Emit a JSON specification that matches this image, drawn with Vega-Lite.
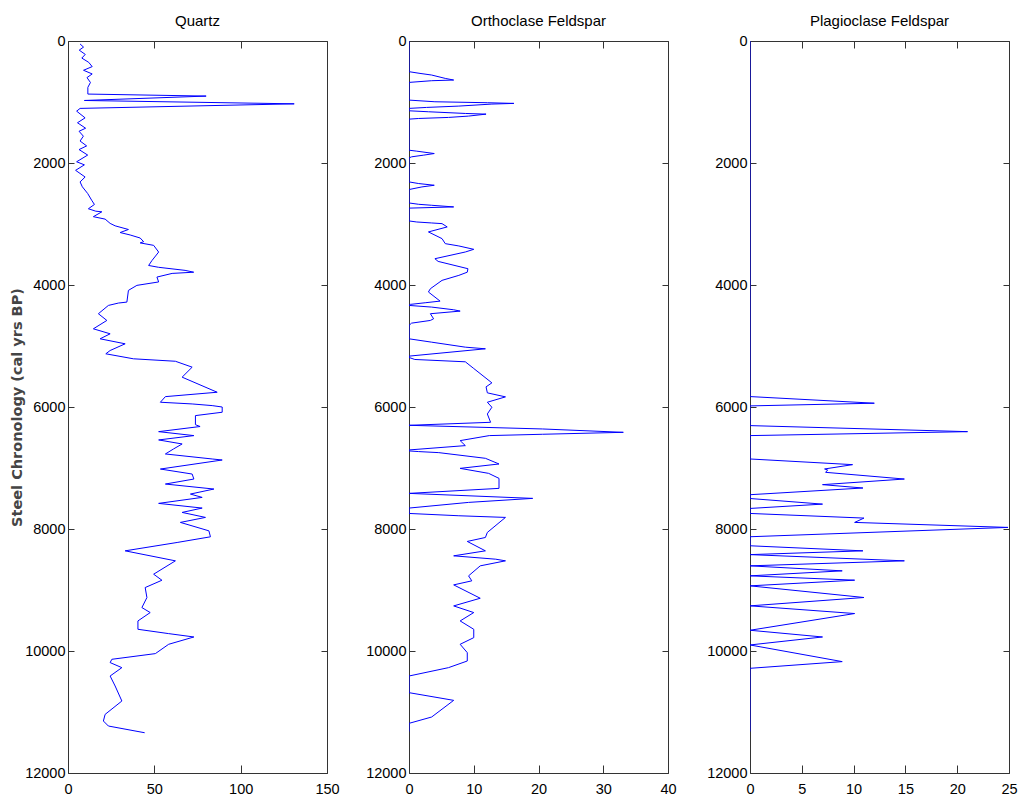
{
  "$schema": "https://vega.github.io/schema/vega-lite/v6.json",
  "padding": {"left": 9, "top": 14, "right": 0, "bottom": 0},
  "background": "white",
  "spacing": 82,
  "bounds": "flush",
  "datasets": {
    "quartz": [
      {"a":49,"v":7.0},{"a":100,"v":9.0},{"a":150,"v":6.5},{"a":220,"v":10},{"a":280,"v":8},{"a":350,"v":12},{"a":420,"v":14},{"a":480,"v":9},{"a":540,"v":14},{"a":600,"v":11},{"a":680,"v":13},{"a":760,"v":11.5},{"a":870,"v":11.5},{"a":903,"v":80},{"a":975,"v":9.5},{"a":1030,"v":131},{"a":1105,"v":7},{"a":1150,"v":5.0},{"a":1260,"v":9.9},{"a":1340,"v":5.5},{"a":1430,"v":10.2},{"a":1480,"v":6.4},{"a":1560,"v":8.9},{"a":1640,"v":7.0},{"a":1720,"v":10.8},{"a":1780,"v":6.4},{"a":1870,"v":11.4},{"a":1980,"v":5.0},{"a":2030,"v":9.5},{"a":2120,"v":4.4},{"a":2230,"v":9.9},{"a":2310,"v":7.0},{"a":2390,"v":8.3},{"a":2500,"v":11.4},{"a":2610,"v":13.7},{"a":2680,"v":15.3},{"a":2750,"v":11.8},{"a":2790,"v":16.1},{"a":2800,"v":19.6},{"a":2880,"v":14.7},{"a":2920,"v":21.5},{"a":2990,"v":24.4},{"a":3030,"v":27.3},{"a":3090,"v":35.0},{"a":3140,"v":30.2},{"a":3180,"v":36.0},{"a":3230,"v":41.8},{"a":3290,"v":43.8},{"a":3310,"v":41.8},{"a":3350,"v":49.6},{"a":3460,"v":52.5},{"a":3600,"v":48.6},{"a":3680,"v":46.7},{"a":3710,"v":52.5},{"a":3760,"v":67.8},{"a":3790,"v":72.8},{"a":3810,"v":60.3},{"a":3870,"v":51.5},{"a":3950,"v":52.5},{"a":4006,"v":39.9},{"a":4088,"v":35.0},{"a":4280,"v":34.1},{"a":4296,"v":29.2},{"a":4335,"v":23.4},{"a":4471,"v":17.6},{"a":4581,"v":22.5},{"a":4718,"v":14.7},{"a":4800,"v":24.4},{"a":4882,"v":18.6},{"a":4964,"v":33.1},{"a":5074,"v":24.4},{"a":5128,"v":21.9},{"a":5210,"v":37.9},{"a":5250,"v":62.2},{"a":5347,"v":71.9},{"a":5511,"v":66.1},{"a":5758,"v":86.4},{"a":5830,"v":56.4},{"a":5922,"v":53.5},{"a":5950,"v":71.9},{"a":5977,"v":83.5},{"a":6000,"v":89.3},{"a":6086,"v":89.3},{"a":6141,"v":73.8},{"a":6290,"v":73.8},{"a":6320,"v":76.5},{"a":6404,"v":52.5},{"a":6469,"v":72.9},{"a":6540,"v":52.5},{"a":6606,"v":66.1},{"a":6690,"v":61.0},{"a":6770,"v":56.4},{"a":6852,"v":83.5},{"a":6869,"v":89.3},{"a":7017,"v":53.5},{"a":7099,"v":71.9},{"a":7181,"v":72.9},{"a":7263,"v":56.4},{"a":7345,"v":84.5},{"a":7427,"v":70.9},{"a":7482,"v":77.7},{"a":7580,"v":52.5},{"a":7657,"v":77.7},{"a":7728,"v":66.1},{"a":7810,"v":79.6},{"a":7892,"v":65.1},{"a":8030,"v":81.6},{"a":8128,"v":82.5},{"a":8221,"v":63.2},{"a":8358,"v":33.1},{"a":8522,"v":62.2},{"a":8741,"v":49.6},{"a":8840,"v":54.4},{"a":8960,"v":44.7},{"a":9124,"v":45.7},{"a":9288,"v":42.8},{"a":9370,"v":47.6},{"a":9507,"v":40.5},{"a":9644,"v":40.5},{"a":9715,"v":58.3},{"a":9770,"v":72.9},{"a":9890,"v":58.3},{"a":10043,"v":50.6},{"a":10136,"v":25.4},{"a":10190,"v":24.4},{"a":10273,"v":31.2},{"a":10410,"v":24.4},{"a":10574,"v":27.3},{"a":10820,"v":31.2},{"a":11039,"v":21.5},{"a":11148,"v":20.5},{"a":11230,"v":23.4},{"a":11340,"v":44.4}
    ],
    "orth": [
      {"a":0,"v":0},{"a":503,"v":0},{"a":531,"v":1.7},{"a":558,"v":3.5},{"a":613,"v":5.6},{"a":640,"v":6.9},{"a":651,"v":3.5},{"a":679,"v":0},{"a":969,"v":0},{"a":996,"v":4.0},{"a":1012,"v":12.1},{"a":1023,"v":16.2},{"a":1034,"v":12.8},{"a":1067,"v":7.7},{"a":1089,"v":2.7},{"a":1105,"v":0},{"a":1144,"v":0},{"a":1160,"v":3.0},{"a":1188,"v":8.7},{"a":1199,"v":11.9},{"a":1231,"v":9.2},{"a":1253,"v":6.1},{"a":1270,"v":1.5},{"a":1281,"v":0},{"a":1790,"v":0},{"a":1806,"v":1.2},{"a":1845,"v":3.9},{"a":1872,"v":2.2},{"a":1899,"v":0.4},{"a":1916,"v":0},{"a":2310,"v":0},{"a":2337,"v":1.5},{"a":2365,"v":3.9},{"a":2392,"v":2.0},{"a":2435,"v":0},{"a":2655,"v":0},{"a":2677,"v":1.5},{"a":2693,"v":3.5},{"a":2720,"v":6.9},{"a":2740,"v":0},{"a":2950,"v":0},{"a":2967,"v":1.2},{"a":2983,"v":3.5},{"a":2994,"v":5.1},{"a":3048,"v":5.9},{"a":3130,"v":3.0},{"a":3240,"v":5.1},{"a":3322,"v":5.6},{"a":3360,"v":7.7},{"a":3415,"v":10.0},{"a":3459,"v":8.7},{"a":3569,"v":4.0},{"a":3613,"v":4.5},{"a":3733,"v":9.1},{"a":3790,"v":9.0},{"a":3842,"v":7.7},{"a":3924,"v":5.1},{"a":4061,"v":3.3},{"a":4115,"v":3.0},{"a":4264,"v":4.8},{"a":4291,"v":2.5},{"a":4318,"v":0.2},{"a":4335,"v":0},{"a":4362,"v":3.5},{"a":4406,"v":6.9},{"a":4428,"v":7.9},{"a":4471,"v":3.3},{"a":4554,"v":3.8},{"a":4581,"v":3.3},{"a":4625,"v":0.4},{"a":4663,"v":0},{"a":4882,"v":0},{"a":4937,"v":3.5},{"a":5019,"v":8.7},{"a":5046,"v":11.8},{"a":5166,"v":0},{"a":5188,"v":0},{"a":5221,"v":0.9},{"a":5259,"v":8.7},{"a":5369,"v":10.0},{"a":5604,"v":12.8},{"a":5670,"v":11.9},{"a":5768,"v":12.1},{"a":5834,"v":14.9},{"a":5922,"v":12.1},{"a":6004,"v":12.8},{"a":6114,"v":12.1},{"a":6251,"v":12.6},{"a":6300,"v":0},{"a":6360,"v":20.6},{"a":6415,"v":33.1},{"a":6447,"v":20.6},{"a":6469,"v":12.4},{"a":6551,"v":7.9},{"a":6633,"v":8.7},{"a":6704,"v":0},{"a":6720,"v":0},{"a":6731,"v":1.5},{"a":6748,"v":4.6},{"a":6841,"v":11.8},{"a":6934,"v":13.9},{"a":7006,"v":7.9},{"a":7088,"v":12.3},{"a":7170,"v":13.9},{"a":7334,"v":13.9},{"a":7416,"v":0},{"a":7498,"v":19.1},{"a":7564,"v":9.2},{"a":7657,"v":0},{"a":7745,"v":0},{"a":7783,"v":7.7},{"a":7810,"v":14.9},{"a":8056,"v":12.1},{"a":8139,"v":11.8},{"a":8204,"v":9.0},{"a":8358,"v":11.8},{"a":8440,"v":6.9},{"a":8495,"v":13.4},{"a":8522,"v":14.9},{"a":8604,"v":11.0},{"a":8768,"v":9.2},{"a":8850,"v":9.7},{"a":8916,"v":6.9},{"a":9135,"v":11.0},{"a":9261,"v":6.9},{"a":9370,"v":10.0},{"a":9507,"v":7.9},{"a":9644,"v":10.0},{"a":9781,"v":10.0},{"a":9890,"v":7.9},{"a":10027,"v":9.0},{"a":10164,"v":9.0},{"a":10273,"v":6.1},{"a":10410,"v":0},{"a":10683,"v":0},{"a":10809,"v":6.9},{"a":11082,"v":3.5},{"a":11186,"v":0},{"a":11320,"v":0}
    ],
    "plag": [
      {"a":0,"v":0},{"a":5829,"v":0},{"a":5938,"v":12.0},{"a":5982,"v":0},{"a":6305,"v":0},{"a":6404,"v":21.0},{"a":6469,"v":0},{"a":6852,"v":0},{"a":6945,"v":9.9},{"a":7016,"v":7.2},{"a":7032,"v":7.5},{"a":7071,"v":7.3},{"a":7181,"v":14.9},{"a":7273,"v":7.0},{"a":7328,"v":10.9},{"a":7438,"v":0},{"a":7500,"v":0},{"a":7592,"v":7.0},{"a":7663,"v":0},{"a":7745,"v":0},{"a":7821,"v":11.0},{"a":7892,"v":10.1},{"a":7974,"v":24.9},{"a":8127,"v":0},{"a":8275,"v":0},{"a":8358,"v":10.9},{"a":8420,"v":0},{"a":8522,"v":14.9},{"a":8604,"v":0},{"a":8686,"v":8.9},{"a":8768,"v":0},{"a":8839,"v":10.1},{"a":8932,"v":0},{"a":9123,"v":11.0},{"a":9260,"v":0},{"a":9386,"v":10.1},{"a":9660,"v":0},{"a":9770,"v":7.0},{"a":9901,"v":0},{"a":10174,"v":8.9},{"a":10284,"v":0},{"a":11320,"v":0}
    ]
  },
  "hconcat": [
    {
      "width": 259, "height": 732,
      "title": {"text": "Quartz"},
      "data": {"name": "quartz"},
      "layer": [
        {"mark": {"type": "line", "color": "#0000ff", "strokeWidth": 1, "clip": true},
         "encoding": {
           "x": {"field": "v", "type": "quantitative", "scale": {"domain": [0, 150], "nice": false, "zero": false},
                 "axis": {"orient": "bottom", "values": [0, 50, 100, 150], "title": null}},
           "y": {"field": "a", "type": "quantitative", "scale": {"domain": [0, 12000], "nice": false, "reverse": true},
                 "axis": {"orient": "left", "values": [0, 2000, 4000, 6000, 8000, 10000, 12000], "format": "d", "title": "Steel Chronology (cal yrs BP)"}},
           "order": {"field": "a", "type": "quantitative"}}},
        {"mark": {"type": "line", "opacity": 0},
         "encoding": {
           "x": {"field": "v", "type": "quantitative", "axis": {"orient": "top", "values": [0, 50, 100, 150], "labels": false, "tickSize": -7, "title": null}},
           "y": {"field": "a", "type": "quantitative", "axis": {"orient": "right", "values": [0, 2000, 4000, 6000, 8000, 10000, 12000], "labels": false, "title": null}},
           "order": {"field": "a", "type": "quantitative"}}}
      ],
      "resolve": {"axis": {"x": "independent", "y": "independent"}}
    },
    {
      "width": 259, "height": 732,
      "title": {"text": "Orthoclase Feldspar"},
      "data": {"name": "orth"},
      "layer": [
        {"mark": {"type": "line", "color": "#0000ff", "strokeWidth": 1, "clip": true},
         "encoding": {
           "x": {"field": "v", "type": "quantitative", "scale": {"domain": [0, 40], "nice": false, "zero": false},
                 "axis": {"orient": "bottom", "values": [0, 10, 20, 30, 40], "title": null}},
           "y": {"field": "a", "type": "quantitative", "scale": {"domain": [0, 12000], "nice": false, "reverse": true},
                 "axis": {"orient": "left", "values": [0, 2000, 4000, 6000, 8000, 10000, 12000], "format": "d", "title": null}},
           "order": {"field": "a", "type": "quantitative"}}},
        {"mark": {"type": "line", "opacity": 0},
         "encoding": {
           "x": {"field": "v", "type": "quantitative", "axis": {"orient": "top", "values": [0, 10, 20, 30, 40], "labels": false, "tickSize": -7, "title": null}},
           "y": {"field": "a", "type": "quantitative", "axis": {"orient": "right", "values": [0, 2000, 4000, 6000, 8000, 10000, 12000], "labels": false, "title": null}},
           "order": {"field": "a", "type": "quantitative"}}}
      ],
      "resolve": {"axis": {"x": "independent", "y": "independent"}}
    },
    {
      "width": 259, "height": 732,
      "title": {"text": "Plagioclase Feldspar"},
      "data": {"name": "plag"},
      "layer": [
        {"mark": {"type": "line", "color": "#0000ff", "strokeWidth": 1, "clip": true},
         "encoding": {
           "x": {"field": "v", "type": "quantitative", "scale": {"domain": [0, 25], "nice": false, "zero": false},
                 "axis": {"orient": "bottom", "values": [0, 5, 10, 15, 20, 25], "title": null}},
           "y": {"field": "a", "type": "quantitative", "scale": {"domain": [0, 12000], "nice": false, "reverse": true},
                 "axis": {"orient": "left", "values": [0, 2000, 4000, 6000, 8000, 10000, 12000], "format": "d", "title": null}},
           "order": {"field": "a", "type": "quantitative"}}},
        {"mark": {"type": "line", "opacity": 0},
         "encoding": {
           "x": {"field": "v", "type": "quantitative", "axis": {"orient": "top", "values": [0, 5, 10, 15, 20, 25], "labels": false, "tickSize": -7, "title": null}},
           "y": {"field": "a", "type": "quantitative", "axis": {"orient": "right", "values": [0, 2000, 4000, 6000, 8000, 10000, 12000], "labels": false, "title": null}},
           "order": {"field": "a", "type": "quantitative"}}}
      ],
      "resolve": {"axis": {"x": "independent", "y": "independent"}}
    }
  ],
  "config": {
    "view": {"stroke": null},
    "axis": {
      "grid": false,
      "domainColor": "#333333",
      "tickColor": "#333333",
      "labelColor": "#000000",
      "labelFont": "Liberation Sans Narrow, Arial Narrow, Liberation Sans, sans-serif",
      "labelFontSize": 14.5,
      "labelFlush": false,
      "labelOverlap": false,
      "titleFont": "DejaVu Sans",
      "titleFontSize": 14.5,
      "titleFontWeight": "bold",
      "titleColor": "#454545",
      "titlePadding": 0
    },
    "axisX": {"tickSize": -8, "labelPadding": 17},
    "axisY": {"tickSize": -6, "labelPadding": 9},
    "title": {
      "font": "Liberation Sans Narrow, Arial Narrow, Liberation Sans, sans-serif",
      "fontSize": 15,
      "fontWeight": "normal",
      "color": "#000000",
      "anchor": "middle",
      "frame": "group",
      "baseline": "alphabetic",
      "offset": 4
    }
  }
}
